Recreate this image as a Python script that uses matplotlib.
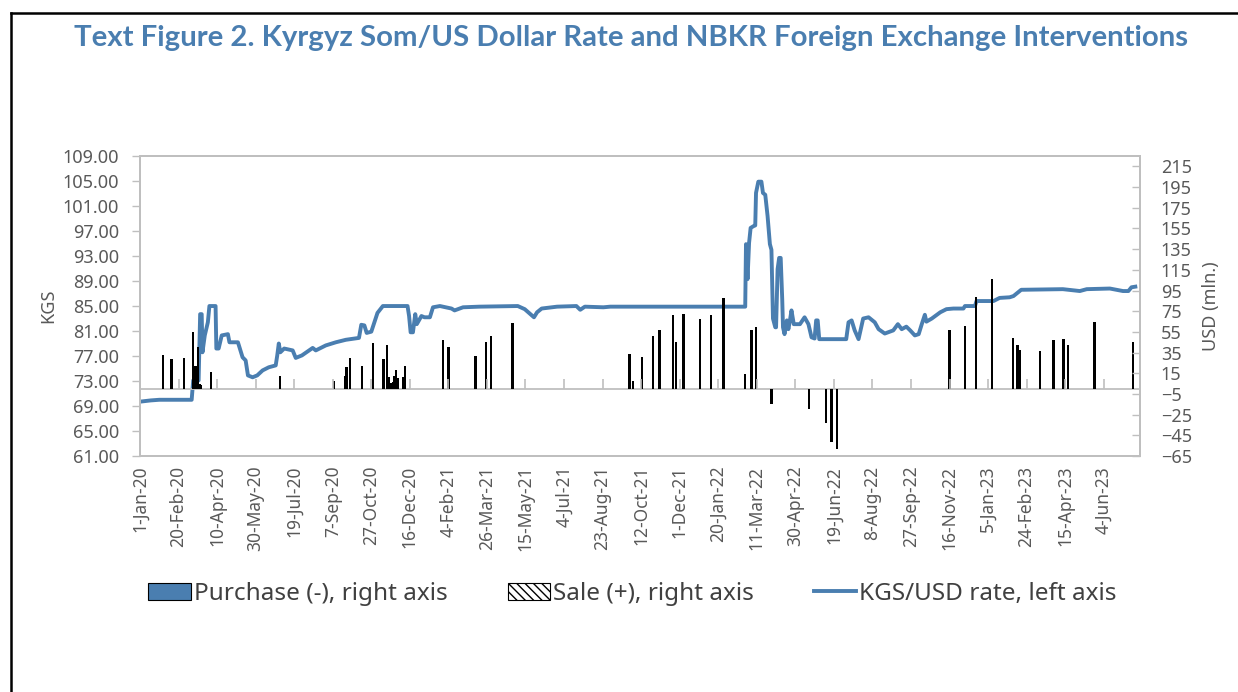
import pandas as pd
import matplotlib.pyplot as plt
from matplotlib.lines import Line2D
from matplotlib.patches import Patch
from matplotlib.ticker import FuncFormatter

plt.rcParams['font.family'] = ['Noto Sans', 'DejaVu Sans']

rate_dates = ['2020-01-01', '2020-01-15', '2020-01-26', '2020-03-08', '2020-03-10', '2020-03-17', '2020-03-19',
              '2020-03-21', '2020-03-22', '2020-03-25', '2020-03-29', '2020-03-31', '2020-04-08', '2020-04-09',
              '2020-04-12', '2020-04-16', '2020-04-24', '2020-04-26', '2020-05-07', '2020-05-13', '2020-05-17',
              '2020-05-20', '2020-05-26', '2020-06-01', '2020-06-08', '2020-06-16', '2020-06-25', '2020-06-27',
              '2020-06-29', '2020-07-01', '2020-07-06', '2020-07-17', '2020-07-21', '2020-07-29', '2020-08-12',
              '2020-08-16', '2020-08-29', '2020-09-11', '2020-09-24', '2020-10-11', '2020-10-14', '2020-10-18',
              '2020-10-21', '2020-10-27', '2020-10-31', '2020-11-04', '2020-11-11', '2020-12-13', '2020-12-15',
              '2020-12-17', '2020-12-20', '2020-12-23', '2020-12-25', '2020-12-31', '2021-01-04', '2021-01-11',
              '2021-01-15', '2021-01-24', '2021-02-08', '2021-02-12', '2021-02-23', '2021-03-16', '2021-05-05',
              '2021-05-14', '2021-05-26', '2021-05-30', '2021-06-05', '2021-06-25', '2021-07-20', '2021-07-25',
              '2021-07-31', '2021-08-24', '2021-09-02', '2022-02-24', '2022-02-25', '2022-02-27', '2022-03-01',
              '2022-03-03', '2022-03-07', '2022-03-09', '2022-03-10', '2022-03-13', '2022-03-17', '2022-03-19',
              '2022-03-22', '2022-03-25', '2022-03-28', '2022-03-30', '2022-04-01', '2022-04-04', '2022-04-05',
              '2022-04-07', '2022-04-09', '2022-04-11', '2022-04-13', '2022-04-14', '2022-04-16', '2022-04-19',
              '2022-04-21', '2022-04-23', '2022-04-25', '2022-04-28', '2022-05-06', '2022-05-12', '2022-05-17',
              '2022-05-21', '2022-05-25', '2022-05-27', '2022-05-29', '2022-05-31', '2022-07-05', '2022-07-08',
              '2022-07-12', '2022-07-16', '2022-07-21', '2022-07-27', '2022-08-03', '2022-08-11', '2022-08-16',
              '2022-08-24', '2022-09-04', '2022-09-10', '2022-09-15', '2022-09-21', '2022-09-26', '2022-10-02',
              '2022-10-07', '2022-10-11', '2022-10-15', '2022-10-17', '2022-10-24', '2022-11-04', '2022-11-12',
              '2022-11-21', '2022-12-04', '2022-12-06', '2022-12-19', '2022-12-21', '2023-01-12', '2023-01-20',
              '2023-02-02', '2023-02-07', '2023-02-13', '2023-02-17', '2023-04-12', '2023-05-04', '2023-05-13',
              '2023-06-12', '2023-06-29', '2023-07-06', '2023-07-10', '2023-07-15']
rate_values = [69.7, 69.9, 70.0, 70.0, 73.1, 73.1, 83.7,
               83.7, 77.6, 80.3, 82.4, 85.0, 85.0, 78.2,
               78.2, 80.3, 80.5, 79.2, 79.2, 76.8, 76.3,
               73.9, 73.6, 73.9, 74.7, 75.2, 75.5, 77.1,
               79.0, 77.6, 78.2, 77.9, 76.7, 77.1, 78.3,
               77.9, 78.7, 79.2, 79.6, 79.9, 82.0, 81.9,
               80.7, 80.9, 82.4, 83.9, 85.0, 85.0, 83.4,
               80.8, 80.8, 83.7, 82.1, 83.4, 83.2, 83.2,
               84.8, 85.0, 84.6, 84.3, 84.8, 84.9, 85.0,
               84.5, 83.2, 84.0, 84.6, 84.9, 85.0, 84.4,
               84.9, 84.8, 84.9, 84.9, 94.9, 89.3, 95.1,
               97.5, 97.8, 97.9, 103.1, 104.9, 104.9, 103.1,
               102.8, 99.4, 94.9, 94.0, 83.0, 81.6, 81.6,
               90.9, 92.7, 92.7, 86.1, 81.6, 80.5, 82.7,
               81.3, 82.7, 84.3, 82.1, 82.1, 83.2, 82.1,
               80.0, 79.8, 82.7, 82.7, 79.7, 79.7, 82.4,
               82.7, 81.1, 79.7, 83.0, 83.2, 82.4, 81.3,
               80.6, 81.1, 82.1, 81.3, 81.7, 81.1, 80.3,
               80.5, 82.1, 83.6, 82.5, 83.0, 84.0, 84.5,
               84.6, 84.6, 85.0, 85.0, 85.8, 85.8, 86.3,
               86.4, 86.6, 87.2, 87.6, 87.7, 87.4, 87.7,
               87.8, 87.4, 87.4, 88.0, 88.1]

sale_dates = ['2020-01-31', '2020-02-11', '2020-02-27', '2020-03-10', '2020-03-13', '2020-03-16', '2020-03-18',
              '2020-03-20', '2020-04-02', '2020-07-01', '2020-09-09', '2020-09-23', '2020-09-25', '2020-09-29',
              '2020-10-15', '2020-10-29', '2020-11-12', '2020-11-16', '2020-11-19', '2020-11-21', '2020-11-22',
              '2020-11-24', '2020-11-25', '2020-11-27', '2020-11-28', '2020-11-30', '2020-12-07', '2020-12-10',
              '2021-01-28', '2021-02-04', '2021-03-11', '2021-03-25', '2021-03-31', '2021-04-28', '2021-09-27',
              '2021-10-01', '2021-10-13', '2021-10-27', '2021-11-05', '2021-11-22', '2021-11-26', '2021-12-06',
              '2021-12-27', '2022-01-11', '2022-01-27', '2022-02-24', '2022-03-04', '2022-03-10', '2022-11-16',
              '2022-12-06', '2022-12-20', '2023-01-10', '2023-02-06', '2023-02-12', '2023-02-15', '2023-03-13',
              '2023-03-31', '2023-04-13', '2023-04-19', '2023-05-23', '2023-07-12']
sale_values = [33, 29, 30, 55, 21.6, 40, 5,
               4, 16, 12, 8, 12.5, 21, 30,
               22.5, 44, 29, 42, 11, 5.5, 4,
               7, 12, 8, 18, 10, 11.6, 22.5,
               47, 40, 32, 45, 51.5, 63.5, 34,
               8, 31, 51, 57, 71.5, 45.7, 72.5,
               67, 71.5, 87.6, 14, 56.7, 60, 57,
               61, 89, 106, 49, 42, 37.7, 36.7,
               47, 48, 42.5, 64.4, 45.7]

purchase_dates = ['2022-03-30', '2022-05-18', '2022-06-09', '2022-06-16', '2022-06-23']
purchase_values = [-14.5, -20, -33, -51, -58]

blue = '#4A7EB0'
grey = '#BFBFBF'
text_grey = '#595959'

fig = plt.figure(figsize=(12.38, 6.92), dpi=100)
ax = fig.add_axes([0.1131, 0.341, 0.8077, 0.4335])
ax2 = ax.twinx()

ax.plot(pd.to_datetime(rate_dates), rate_values, color=blue, lw=2.8, solid_joinstyle='round')
ax2.bar(pd.to_datetime(sale_dates), sale_values, width=3, color='black', linewidth=0)
ax2.bar(pd.to_datetime(purchase_dates), purchase_values, width=3, color='black', linewidth=0)
ax2.axhline(0, color=grey, lw=1.3, zorder=0)

ticks = pd.date_range('2020-01-01', periods=26, freq='50D')
ax2.plot(ticks, [0] * len(ticks), ls='none', marker=2, ms=7, mew=1.2, color=grey)

ax.set_xlim(pd.Timestamp('2020-01-01'), pd.Timestamp('2023-07-21'))
ax.set_xticks(ticks)
ax.set_xticklabels([f"{d.day}-{d.strftime('%b-%y')}" for d in ticks], rotation=90)
ax.tick_params(axis='x', length=0, pad=7, labelsize=12.5, labelcolor=text_grey)

ax.set_ylim(61, 109)
ax.set_yticks(range(61, 110, 4))
ax.yaxis.set_major_formatter(FuncFormatter(lambda v, p: f'{v:.2f}'))
ax.tick_params(axis='y', direction='out', length=6, color=grey, width=1, pad=9,
               labelsize=13, labelcolor=text_grey)
ax.set_ylabel('KGS', fontsize=13, color=text_grey, labelpad=4)

ax2.set_ylim(-65, 225)
ax2.set_yticks(range(-65, 216, 20))
ax2.tick_params(axis='y', direction='in', length=6, color=grey, width=1, pad=15,
                labelsize=13, labelcolor=text_grey)
ax2.set_ylabel('USD (mln.)', fontsize=13, color=text_grey, labelpad=7)

for a in (ax, ax2):
    for s in a.spines.values():
        s.set_color(grey)
        s.set_linewidth(1.3)

fig.text(0.51, 1 - 38 / 692, 'Text Figure 2. Kyrgyz Som/US Dollar Rate and NBKR Foreign Exchange Interventions',
         ha='center', va='center', fontsize=21.2, fontweight='bold', color=blue, family=['Lato', 'DejaVu Sans'])

handles = [Patch(facecolor=blue, edgecolor='black', linewidth=0.8),
           Patch(facecolor='white', edgecolor='black', hatch='\\\\\\\\', linewidth=0.8),
           Line2D([0], [0], color=blue, lw=2.8)]
labels = ['Purchase (-), right axis', 'Sale (+), right axis', 'KGS/USD rate, left axis']
fig.legend(handles, labels, loc='center', bbox_to_anchor=(0.511, 1 - 594 / 692), ncol=3, frameon=False,
           fontsize=17.5, handlelength=1.75, handleheight=0.7, handletextpad=0.12, columnspacing=2.47,
           labelcolor='#404040')

fig.add_artist(Line2D([11 / 1238, 11 / 1238], [0, 1 - 13 / 692], color='black', lw=1.8))
fig.add_artist(Line2D([11 / 1238, 1], [1 - 13 / 692, 1 - 13 / 692], color='black', lw=1.8))

fig.savefig('out.png', dpi=100)
